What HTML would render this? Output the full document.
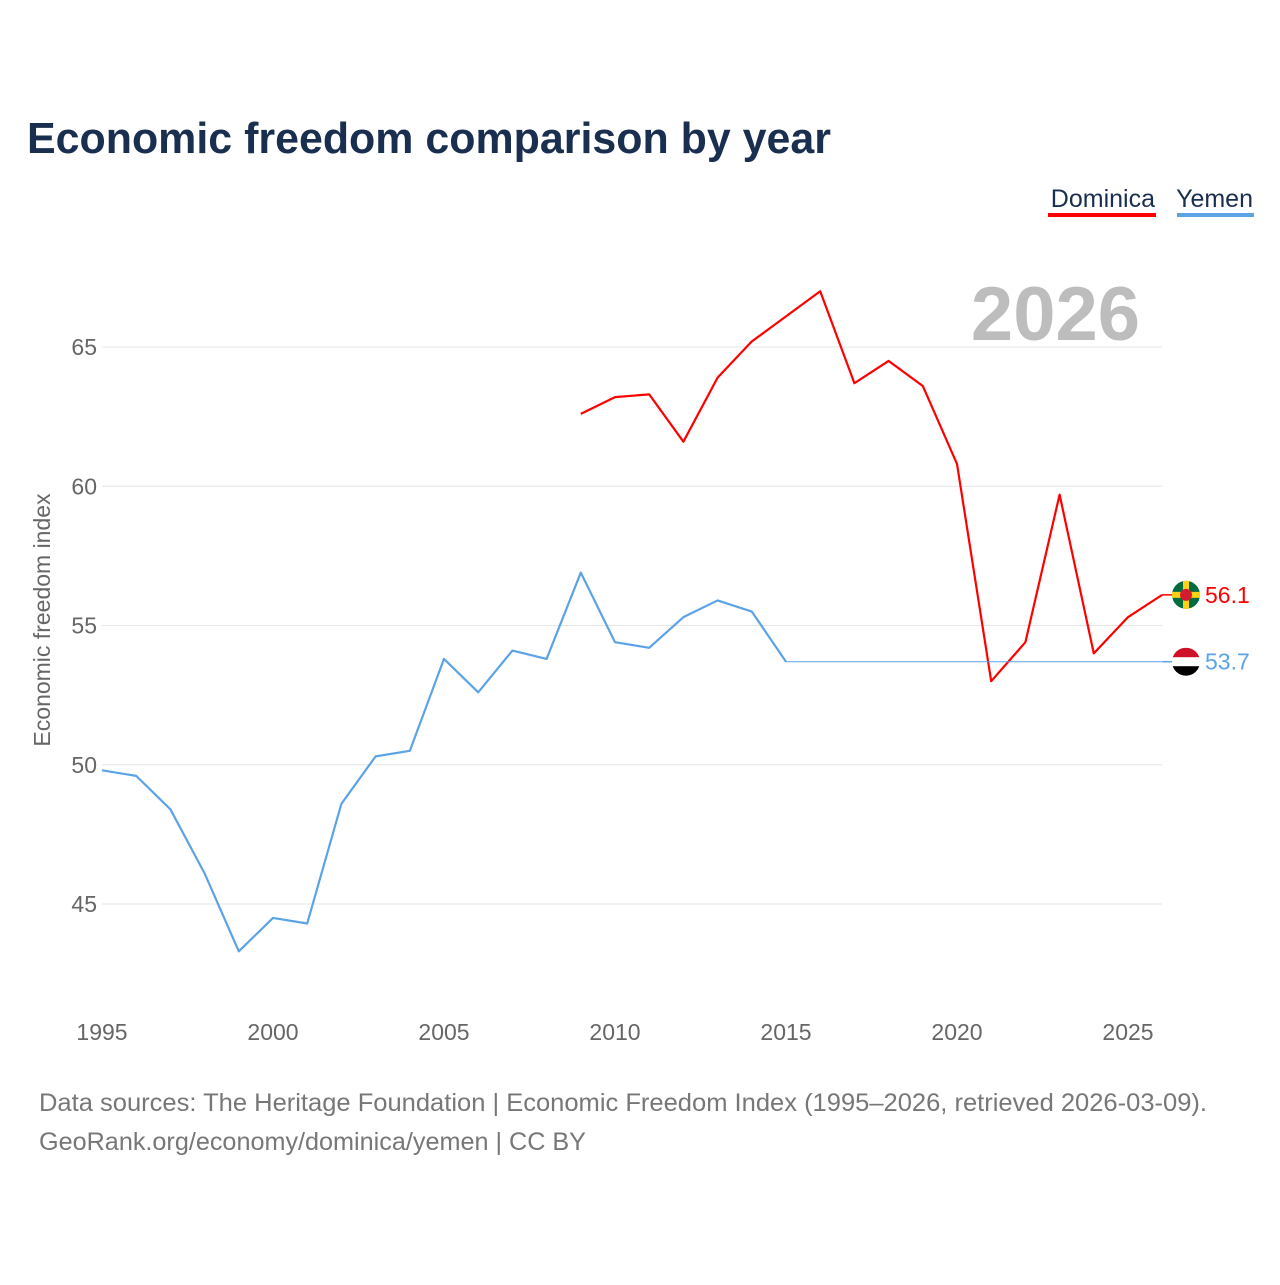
<!DOCTYPE html>
<html><head><meta charset="utf-8"><style>
body{margin:0;background:#fff;font-family:"Liberation Sans",sans-serif}
</style></head><body>
<svg width="1280" height="1280" xmlns="http://www.w3.org/2000/svg" id="svg">
<rect width="1280" height="1280" fill="#fff"/>
<text x="27" y="153" font-size="44" font-weight="bold" fill="#1a2e4f" textLength="804" lengthAdjust="spacingAndGlyphs">Economic freedom comparison by year</text>
<g>
<text x="1155" y="207" font-size="25" fill="#1a2e4f" text-anchor="end">Dominica</text>
<rect x="1048" y="213" width="108" height="4" fill="#f00"/>
<text x="1253" y="207" font-size="25" fill="#1a2e4f" text-anchor="end">Yemen</text>
<rect x="1177" y="213" width="77" height="4" fill="#5ba3e6"/>
</g>
<text x="1140" y="340" font-size="76" font-weight="bold" fill="#bdbdbd" text-anchor="end">2026</text>
<text transform="translate(50,620) rotate(-90)" font-size="23" fill="#666" text-anchor="middle">Economic freedom index</text>
<g id="grid"></g><g id="xt"></g><g id="lines"></g>
<text x="39" y="1111" font-size="25" fill="#777" textLength="1168" lengthAdjust="spacingAndGlyphs">Data sources: The Heritage Foundation | Economic Freedom Index (1995–2026, retrieved 2026-03-09).</text>
<text x="39" y="1150" font-size="25" fill="#777" textLength="547" lengthAdjust="spacingAndGlyphs">GeoRank.org/economy/dominica/yemen | CC BY</text>
</svg>
<script>
const years=[1995,1996,1997,1998,1999,2000,2001,2002,2003,2004,2005,2006,2007,2008,2009,2010,2011,2012,2013,2014,2015,2016,2017,2018,2019,2020,2021,2022,2023,2024,2025,2026];
const yemen=[49.8,49.6,48.4,46.1,43.3,44.5,44.3,48.6,50.3,50.5,53.8,52.6,54.1,53.8,56.9,54.4,54.2,55.3,55.9,55.5,53.7,null,null,null,null,null,null,null,null,null,null,null];
const dominica=[null,null,null,null,null,null,null,null,null,null,null,null,null,null,62.6,63.2,63.3,61.6,63.9,65.2,66.1,67.0,63.7,64.5,63.6,60.8,53.0,54.4,59.7,54.0,55.3,56.1];
const yTicks=[45,50,55,60,65];
const xTicks=[1995,2000,2005,2010,2015,2020,2025];
const NS="http://www.w3.org/2000/svg";
const X=y=>102+(y-1995)*(1026/30);
const Y=v=>347+(65-v)*(557/20);
function mk(t,a,p){const e=document.createElementNS(NS,t);for(const k in a)e.setAttribute(k,a[k]);p.appendChild(e);return e;}
const g=document.getElementById('grid');
yTicks.forEach(v=>{
 const l=mk('line',{x1:102,x2:1162,y1:Y(v),y2:Y(v),stroke:'#e6e6e6','stroke-width':1},g);
 
 
 const t=mk('text',{x:97,y:Y(v)+8,'font-size':23,fill:'#666','text-anchor':'end'},g);
 t.textContent=v;
 
 
});
const xt=document.getElementById('xt');
xTicks.forEach(v=>{
 const t=mk('text',{x:X(v),y:1040,'font-size':23,fill:'#666','text-anchor':'middle'},xt);
 t.textContent=v;
 
 
});
const L=document.getElementById('lines');
function series(vals,color,name){
 let pts=[],last=null;
 vals.forEach((v,i)=>{if(v!=null){pts.push(X(years[i])+','+Y(v));last=i;}});
 const lv=vals[last];
 if(last<years.length-1){
  const f=mk('line',{x1:X(years[last]),x2:X(2026),y1:Y(lv),y2:Y(lv),stroke:color,'stroke-width':1},L);
  
  
 }
 const p=mk('polyline',{points:pts.join(' '),fill:'none',stroke:color,'stroke-width':2.2,'stroke-linejoin':'round'},L);
 
 
 mk('line',{x1:X(2026),x2:1172,y1:Y(lv),y2:Y(lv),stroke:color,'stroke-width':1.5},L);
 return lv;
}
const dv=series(dominica,'#ff0000','dominica');
const yv=series(yemen,'#5ba3e6','yemen');
const fd=mk('g',{},L);
const cy1=Y(dv);
mk('circle',{cx:1186,cy:cy1,r:14,fill:'#006b3f'},fd);
mk('rect',{x:1172,y:cy1-3,width:28,height:6,fill:'#fcd116'},fd);
mk('rect',{x:1183,y:cy1-14,width:6,height:28,fill:'#fcd116'},fd);
mk('circle',{cx:1186,cy:cy1,r:6,fill:'#d41c30'},fd);
const fy=mk('g',{},L);
const cy2=Y(yv);
mk('clipPath',{id:'cp'},fy);
document.getElementById('cp').appendChild(document.createElementNS(NS,'circle'));
const cc=document.querySelector('#cp circle');cc.setAttribute('cx',1186);cc.setAttribute('cy',cy2);cc.setAttribute('r',14);
mk('rect',{x:1172,y:cy2-14,width:28,height:10,fill:'#ce1126','clip-path':'url(#cp)'},fy);
mk('rect',{x:1172,y:cy2-4.5,width:28,height:9,fill:'#fff','clip-path':'url(#cp)'},fy);
mk('rect',{x:1172,y:cy2+4.5,width:28,height:10,fill:'#000','clip-path':'url(#cp)'},fy);
const t1=mk('text',{x:1205,y:cy1+8,'font-size':23,fill:'#ff0000'},L);t1.textContent=dv.toFixed(1);


const t2=mk('text',{x:1205,y:cy2+8,'font-size':23,fill:'#5ba3e6'},L);t2.textContent=yv.toFixed(1);


</script>
</body></html>
